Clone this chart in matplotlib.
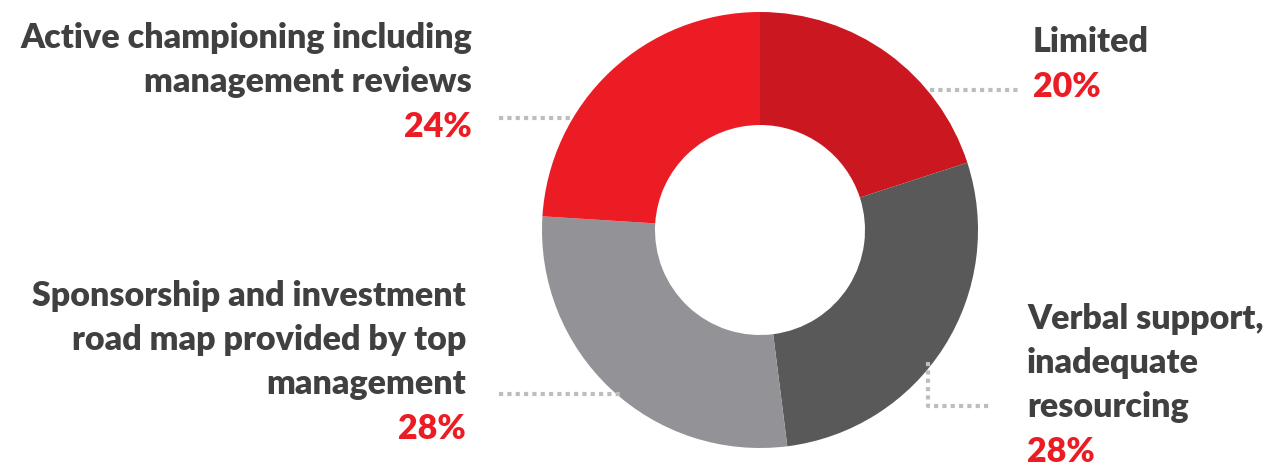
import matplotlib
matplotlib.use("Agg")
import matplotlib.pyplot as plt

# Share of responses per level of leadership support
categories = [
    "Limited",
    "Verbal support,\ninadequate\nresourcing",
    "Sponsorship and investment\nroad map provided by top\nmanagement",
    "Active championing including\nmanagement reviews",
]
values = [20, 28, 28, 24]
colors = ["#CB1720", "#595959", "#939397", "#EC1C24"]

W, H = 1271, 468
fig = plt.figure(figsize=(W / 100, H / 100), dpi=100)
ax = fig.add_axes([0, 0, 1, 1])
ax.set_xlim(0, W)
ax.set_ylim(0, H)
ax.set_aspect("equal")
ax.axis("off")

cx, cy, r_out, r_in = 760, H - 230, 218, 105
ax.pie(values, colors=colors, startangle=90, counterclock=False,
       center=(cx, cy), radius=r_out,
       wedgeprops=dict(width=r_out - r_in, linewidth=0))
ax.set_xlim(0, W)
ax.set_ylim(0, H)

font = dict(family=["Lato", "DejaVu Sans"], fontweight="heavy")
label_color = "#404040"
pct_color = "#EC1C24"
fs = 24.5
line_h = 44

def y(p):
    return H - p

# label blocks: (x, top line centre y in px, alignment)
blocks = [
    (1033, 42, "left"),
    (1027, 319, "left"),
    (466, 296, "right"),
    (472, 38, "right"),
]
for (x, y0, ha), cat, v in zip(blocks, categories, values):
    lines = cat.split("\n")
    for i, ln in enumerate(lines):
        ax.text(x, y(y0 + i * line_h), ln, ha=ha, va="center",
                fontsize=fs, color=label_color, **font)
    ax.text(x, y(y0 + len(lines) * line_h + 1), f"{v}%", ha=ha, va="center",
            fontsize=fs, color=pct_color, **font)

# dotted leader lines
lead = dict(color="#BDBDBD", lw=3, linestyle=(0, (1, 1)), solid_capstyle="butt")
ax.plot([930, 1020], [y(90), y(90)], **lead)
ax.plot([928, 928, 992], [y(362), y(406), y(406)], **lead)
ax.plot([499, 570], [y(118), y(118)], **lead)
ax.plot([499, 620], [y(394), y(394)], **lead)

fig.savefig("out.png", dpi=100)
